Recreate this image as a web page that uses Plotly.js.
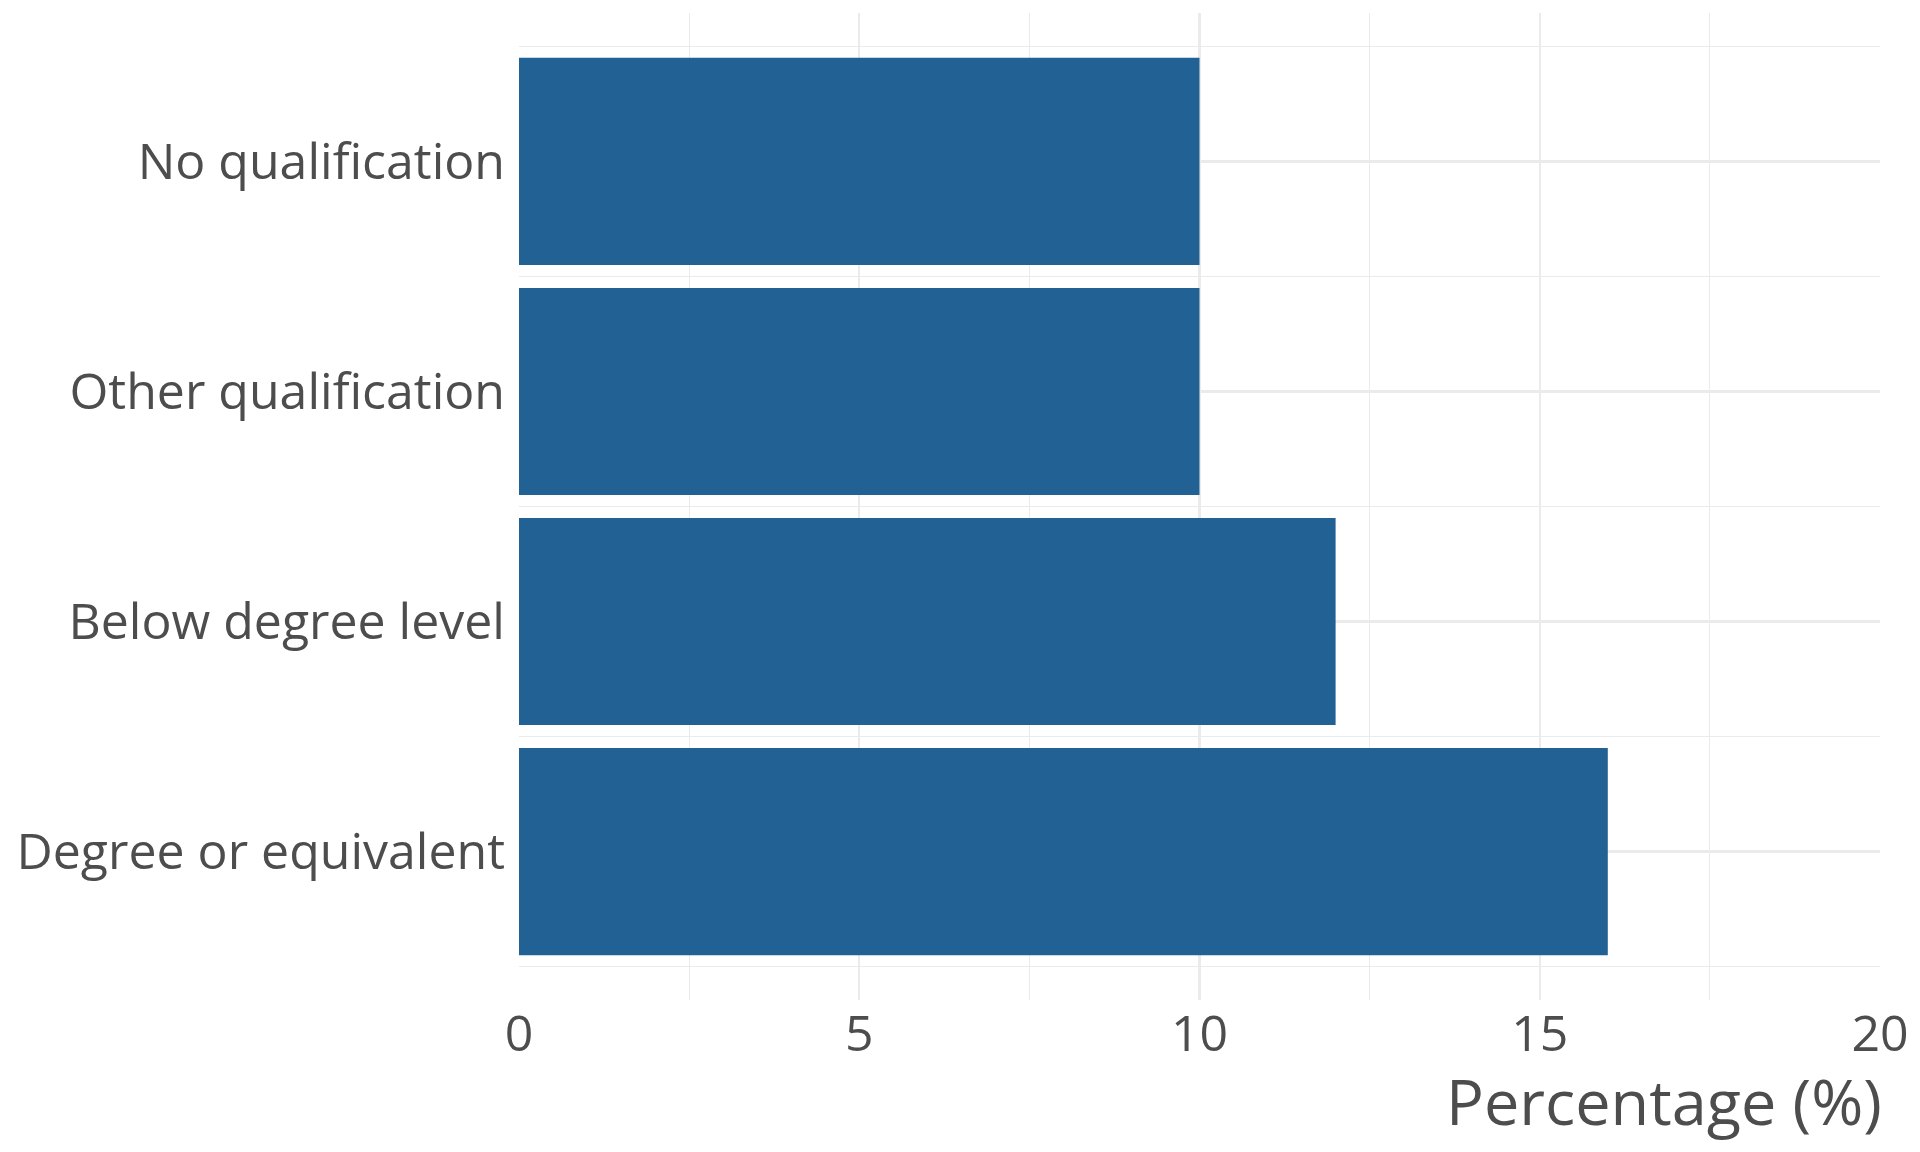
<!DOCTYPE html>
<html>
<head>
<meta charset="utf-8">
<script src="https://cdn.plot.ly/plotly-3.0.1.min.js"></script>
<style>
  html, body { margin: 0; padding: 0; background: #ffffff; }
  #chart { width: 1920px; height: 1152px; }
</style>
</head>
<body>
<div id="chart"></div>
<script>
// Data
const categories = ["Degree or equivalent", "Below degree level", "Other qualification", "No qualification"];
const percentages = [16, 12, 10, 10];
const xTickValues = [0, 5, 10, 15, 20];
const xTitle = "Percentage (%)";

const textColor = "#4D4D4D";
const gridColor = "#EBEBEB";
const barColor = "#226194";
const fontFamily = "'Open Sans', 'Noto Sans', sans-serif";

const trace = {
  type: "bar",
  orientation: "h",
  y: categories,
  x: percentages,
  width: 0.9,
  marker: { color: barColor, line: { width: 0 } },
  hoverinfo: "x+y"
};

const yRange = [-0.645, 3.645];

const layout = {
  width: 1920,
  height: 1152,
  margin: { l: 519, r: 40, t: 13, b: 152 },
  paper_bgcolor: "#ffffff",
  plot_bgcolor: "#ffffff",
  showlegend: false,
  font: { family: fontFamily, color: textColor, size: 50 },
  xaxis: {
    range: [0, 20],
    tickvals: xTickValues,
    ticktext: xTickValues.map(String),
    showgrid: true,
    gridcolor: gridColor,
    gridwidth: 2.3,
    zeroline: false,
    showline: false,
    ticks: "",
    tickfont: { family: fontFamily, size: 50, color: textColor },
    minor: { dtick: 2.5, tick0: 0, showgrid: true, gridcolor: gridColor, gridwidth: 1.2, ticks: "" },
    fixedrange: true
  },
  yaxis: {
    type: "category",
    categoryorder: "array",
    categoryarray: categories,
    range: yRange,
    showgrid: true,
    gridcolor: gridColor,
    gridwidth: 2.3,
    zeroline: false,
    showline: false,
    ticks: "",
    ticklabelstandoff: 13,
    tickfont: { family: fontFamily, size: 50, color: textColor },
    fixedrange: true
  },
  yaxis2: {
    overlaying: "y",
    range: yRange,
    tickvals: [-0.5, 0.5, 1.5, 2.5, 3.5],
    showticklabels: false,
    showgrid: true,
    gridcolor: gridColor,
    gridwidth: 1.2,
    zeroline: false,
    showline: false,
    ticks: "",
    fixedrange: true
  },
  annotations: [{
    text: xTitle,
    xref: "paper", yref: "paper",
    x: 1, y: -0.057,
    xanchor: "right", yanchor: "top",
    xshift: 4,
    showarrow: false,
    font: { family: fontFamily, size: 63, color: textColor }
  }]
};

// empty trace bound to yaxis2 so the overlay axis (minor row grid) is drawn
const overlayTrace = { type: "scatter", x: [], y: [], yaxis: "y2", hoverinfo: "skip", showlegend: false };

Plotly.newPlot("chart", [trace, overlayTrace], layout, { displayModeBar: false, staticPlot: true });
</script>
</body>
</html>
